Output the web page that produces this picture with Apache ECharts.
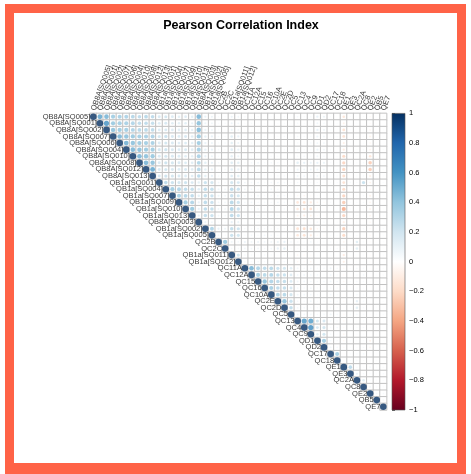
<!DOCTYPE html>
<html>
<head>
<meta charset="utf-8">
<script src="https://cdn.jsdelivr.net/npm/echarts@6/dist/echarts.min.js"></script>
<style>
html,body{margin:0;padding:0;background:#fff;}
#frame{position:absolute;left:5px;top:4px;width:443px;height:450px;border:9px solid #ff6347;border-bottom-width:14px;background:#fff;}
#chart{position:absolute;left:0;top:0;width:471px;height:474px;}
</style>
</head>
<body>
<div id="frame"></div>
<div id="chart"></div>
<script>
var varNames = ['QB8A[SQ005]','QB8A[SQ001]','QB8A[SQ002]','QB8A[SQ007]','QB8A[SQ006]','QB8A[SQ004]','QB8A[SQ010]','QB8A[SQ008]','QB8A[SQ012]','QB8A[SQ013]',
	'QB1a[SQ001]','QB1a[SQ004]','QB1a[SQ007]','QB1a[SQ009]','QB1a[SQ010]','QB1a[SQ013]','QB8A[SQ003]','QB1a[SQ002]','QB1a[SQ005]','QC2B',
	'QC2C','QB1a[SQ011]','QB1a[SQ012]','QC11A','QC12A','QC15','QC16','QC10A','QC2E','QC2D',
	'QC5','QC13','QC4','QC9','QD1','QD2','QC17','QC18','QE1','QE3',
	'QC2A','QC8','QE2','QB5','QE7'];

// upper triangle, row i holds the values for columns i+1 .. 44
var corrUpper = [
	[.55,.5,.4,.38,.36,.33,.3,.32,.3,.2,.22,.18,.15,.17,.14,.5,.12,.1,.05,.04,.1,.08,.05,.03,.06,.02,.04,.03,.05,.02,.06,.04,.05,.12,.1,.03,.02,-.15,.03,.02,.04,-.05,.02,.03],
	[.62,.42,.4,.38,.35,.3,.3,.28,.18,.2,.16,.14,.15,.12,.45,.1,.08,.04,.05,.09,.07,.04,.05,.03,.04,.02,.03,.04,.03,.05,.04,.03,.08,.06,.02,.03,-.08,.02,.03,.02,-.04,.01,.02],
	[.45,.42,.4,.36,.33,.32,.3,.18,.2,.17,.15,.16,.13,.48,.11,.09,.05,.04,.1,.08,.03,.04,.05,.03,.04,.02,.03,.02,.04,.05,.03,.12,.09,.03,.02,-.18,.03,.02,.03,-.06,.02,.03],
	[.5,.45,.42,.4,.38,.36,.22,.25,.2,.18,.2,.16,.42,.14,.12,.06,.05,.15,.12,.05,.04,.06,.05,.03,.04,.05,.03,.06,.05,.04,.1,.08,.03,.04,-.18,.02,.03,.04,-.08,.02,.02],
	[.52,.45,.42,.4,.38,.2,.22,.2,.17,.18,.15,.4,.12,.1,.05,.06,.14,.1,.04,.05,.03,.04,.05,.03,.04,.02,.05,.04,.06,.08,.07,.02,.03,-.1,.03,.02,.03,-.06,.03,.02],
	[.5,.46,.42,.4,.22,.24,.2,.18,.2,.16,.38,.13,.12,.06,.05,.16,.12,.05,.06,.04,.05,.03,.04,.05,.03,.06,.05,.04,.1,.08,.03,.02,-.12,.02,.03,.05,-.07,.02,.03],
	[.5,.45,.42,.2,.22,.2,.18,.16,.14,.36,.12,.1,.05,.04,.13,.1,.04,.05,.04,.03,.05,.04,.03,.02,.05,.06,.04,.08,.06,.02,.03,-.22,.03,.02,.04,-.15,.02,.02],
	[.5,.45,.2,.24,.22,.2,.18,.16,.34,.15,.12,.06,.05,.16,.14,.05,.06,.08,.05,.06,.05,.04,.04,.14,.12,.1,.12,.1,.04,.03,-.24,.03,.04,.05,-.28,.03,.02],
	[.55,.2,.22,.2,.18,.2,.16,.32,.14,.12,.05,.06,.15,.12,.05,.04,.06,.05,.04,.06,.05,.03,.1,.08,.09,.1,.08,.03,.04,-.25,.04,.03,.04,-.28,.02,.03],
	[.2,.24,.22,.2,.18,.16,.3,.14,.12,.06,.05,.16,.14,.06,.05,.06,.04,.05,.06,.05,.03,.08,.07,.06,.08,.07,.03,.04,-.2,.03,.04,.05,-.1,.02,.03],
	[.3,.25,.22,.24,.2,.14,.25,.22,.08,.06,.22,.2,.08,.06,.07,.05,.06,.07,.06,.04,.06,.05,.04,.05,.04,.03,.04,-.18,.05,.04,.25,-.08,.03,.04],
	[.4,.35,.3,.28,.16,.3,.28,.1,.08,.3,.25,.08,.07,.06,.05,.07,.06,.05,.04,.05,.04,.03,.06,.05,.04,.03,-.22,.04,.03,.05,-.06,.03,.04],
	[.38,.33,.3,.14,.28,.25,.1,.08,.26,.22,.07,.06,.08,.05,.06,.07,.06,.04,-.05,-.06,-.04,.04,.03,.03,.04,-.24,.03,.04,.05,-.08,.03,.03],
	[.4,.35,.12,.3,.26,.08,.07,.32,.24,.06,.07,.05,.06,.05,.07,.06,.03,-.15,-.18,-.12,-.06,-.04,.03,.02,-.28,.03,.04,.05,-.06,.03,.02],
	[.42,.12,.3,.28,.09,.08,.35,.26,.06,.05,.07,.06,.05,.04,.06,.03,-.14,-.16,-.18,-.05,-.04,.02,.03,-.4,.04,.03,.04,-.08,.03,.03],
	[.12,.28,.25,.08,.07,.3,.25,.06,.05,.06,.05,.06,.05,.04,.03,-.08,-.1,-.08,-.04,-.03,.03,.02,-.24,.03,.04,.03,-.07,.02,.03],
	[.1,.08,.04,.05,.12,.1,.04,.03,.05,.04,.03,.04,.05,.02,.05,.04,.03,.06,.05,.02,.03,-.1,.02,.03,.02,-.05,.02,.02],
	[.35,.12,.1,.28,.24,.06,.05,.07,.06,.05,.06,.05,.04,-.18,-.2,-.15,-.06,-.05,.03,.04,-.26,.04,.03,.05,-.05,.03,.04],
	[.06,.05,.25,.22,.05,.06,.05,.07,.06,.05,.04,.03,-.15,-.18,-.12,-.05,-.04,.04,.03,-.22,.03,.04,.03,-.05,.02,.03],
	[.42,.08,.06,.1,.08,.09,.07,.08,.1,.12,.06,.05,.04,.06,.03,.04,.05,.04,-.06,.03,.15,.04,-.03,.02,.03],
	[.06,.05,.08,.07,.08,.06,.07,.12,.14,.05,.04,.05,.03,.04,.03,.04,.05,-.05,.02,.14,.03,-.02,.03,.02],
	[.22,.06,.05,.04,.06,.05,.04,.05,.03,-.06,-.05,-.04,.03,.02,.03,.02,-.12,.03,.02,.04,-.04,.02,.03],
	[.05,.04,.06,.05,.04,.05,.06,.03,-.05,-.04,-.06,.02,.03,.02,.03,-.1,.02,.03,.02,-.03,.02,.02],
	[.5,.35,.3,.32,.25,.22,.15,.08,.06,.07,.05,.06,.08,.06,-.05,.04,.06,.05,-.03,.04,.03],
	[.38,.32,.35,.28,.25,.16,.07,.08,.06,.06,.05,.07,.05,-.04,.03,.05,.06,-.02,.03,.04],
	[.45,.35,.3,.28,.18,.08,.07,.06,.05,.06,.07,.06,-.05,.04,.05,.04,-.03,.03,.02],
	[.38,.3,.28,.2,.07,.06,.08,.05,.04,.06,.05,-.04,.03,.05,.04,-.02,.03,.03],
	[.35,.32,.22,.08,.07,.06,.05,.04,.06,.05,-.03,.04,.06,.05,-.02,.03,.02],
	[.45,.25,.06,.05,.07,.04,.05,.06,.05,-.04,.03,.12,.05,-.02,.02,.03],
	[.28,.07,.06,.05,.05,.04,.06,.05,-.03,.04,.14,.05,-.02,.03,.02],
	[.08,.07,.06,.05,.06,.08,.06,-.04,.05,.06,.05,-.03,.03,.04],
	[.6,.58,.22,.2,.06,.05,-.05,.04,.03,.05,-.03,.02,.03],
	[.65,.2,.22,.05,.06,-.04,.03,.04,.05,-.03,.03,.02],
	[.15,.22,.05,.04,-.06,.03,.04,.03,-.02,.03,.02],
	[.4,.06,.05,-.05,.04,.03,.04,-.08,.02,.03],
	[.08,.06,-.04,.03,.04,.05,-.06,.02,.03],
	[.38,-.03,.04,.05,.06,-.02,.03,.02],
	[-.03,.04,.05,.04,-.02,.03,.02],
	[.3,.05,.04,.06,.03,.04],
	[.1,.05,.04,.03,.05],
	[.15,.04,.03,.04],
	[.08,.04,.03],
	[.06,.05],
	[.06]
];

// RdBu, from -1 to 1
var legendColors = ['#67001F','#B2182B','#D6604D','#F4A582','#FDDBC7','#FFFFFF','#D1E5F0','#92C5DE','#4393C3','#2166AC','#053061'];

var n = varNames.length;
var cellData = [], dotData = [], nameData = [], colData = [];
for (var i = 0; i < n; ++i) {
	nameData.push([i, i]);
	colData.push([i, 0]);
	for (var j = i; j < n; ++j) {
		var r = (j === i) ? 1 : corrUpper[i][j - i - 1];
		cellData.push([j, i, r]);
		dotData.push([j, i, r]);
	}
}

var barStops = [];
for (var k = 0; k < legendColors.length; ++k) {
	var v = -1 + 2 * k / (legendColors.length - 1);
	barStops.push({offset: (1 - v) / 2, color: legendColors[k]});
}
barStops.sort(function (a, b) { return a.offset - b.offset; });

var font = 'Liberation Sans';
var myChart = echarts.init(document.getElementById('chart'));
var option = {
	animation: false,
	textStyle: {fontFamily: font},
	graphic: [{
		type: 'text', x: 241, y: 26,
		style: {text: 'Pearson Correlation Index', font: 'bold 12.5px "Liberation Sans"', fill: '#000', textAlign: 'center', textVerticalAlign: 'middle'}
	}],
	grid: [
		{left: 90, top: 113.4, width: 296.6, height: 296.6},
		{left: 392, top: 113.4, width: 13, height: 296.6}
	],
	xAxis: [
		{type: 'category', gridIndex: 0, data: varNames, show: false},
		{type: 'value', gridIndex: 1, min: 0, max: 1, show: false}
	],
	yAxis: [
		{type: 'category', gridIndex: 0, inverse: true, data: varNames, show: false},
		{type: 'value', gridIndex: 1, min: -1, max: 1, interval: 0.2, position: 'right',
			axisLine: {show: false}, splitLine: {show: false},
			axisTick: {show: true, length: 3, lineStyle: {color: '#444', width: 0.8}},
			axisLabel: {margin: 4, fontSize: 7.5, color: '#000', fontFamily: font,
				formatter: function (val) { return String(+val.toFixed(1)).replace('-', '\u2212'); }}}
	],
	visualMap: {
		show: false, type: 'continuous', min: -1, max: 1, dimension: 2, seriesIndex: 1,
		inRange: {color: legendColors}
	},
	series: [
		{type: 'heatmap', xAxisIndex: 0, yAxisIndex: 0, data: cellData,
			itemStyle: {color: '#fff', borderColor: '#c2c2c2', borderWidth: 1},
			emphasis: {disabled: true}, silent: true},
		{type: 'scatter', xAxisIndex: 0, yAxisIndex: 0, data: dotData, symbol: 'circle',
			symbolSize: function (val) { return 6.6 * Math.sqrt(Math.abs(val[2])); },
			silent: true},
		{type: 'scatter', xAxisIndex: 0, yAxisIndex: 0, data: nameData, symbolSize: 0, silent: true,
			label: {show: true, position: 'left', distance: 3, fontSize: 7.5, color: '#000', fontFamily: font,
				formatter: function (p) { return varNames[p.data[0]]; }}},
		{type: 'scatter', xAxisIndex: 0, yAxisIndex: 0, data: colData, symbolSize: 0, silent: true,
			label: {show: true, position: [0, -6.5], rotate: 70, align: 'left', verticalAlign: 'middle',
				fontSize: 7.5, color: '#000', fontFamily: font,
				formatter: function (p) { return varNames[p.data[0]]; }}},
		{type: 'custom', xAxisIndex: 1, yAxisIndex: 1, data: [[0, 1, -1]], silent: true,
			encode: {x: 0, y: [1, 2]},
			renderItem: function (params, api) {
				var p1 = api.coord([0, api.value(1)]);
				var p2 = api.coord([1, api.value(2)]);
				return {type: 'rect',
					shape: {x: p1[0], y: p1[1], width: p2[0] - p1[0], height: p2[1] - p1[1]},
					style: {fill: new echarts.graphic.LinearGradient(0, 0, 0, 1, barStops), stroke: '#555', lineWidth: 0.6}};
			}}
	]
};
myChart.setOption(option);
</script>
</body>
</html>
